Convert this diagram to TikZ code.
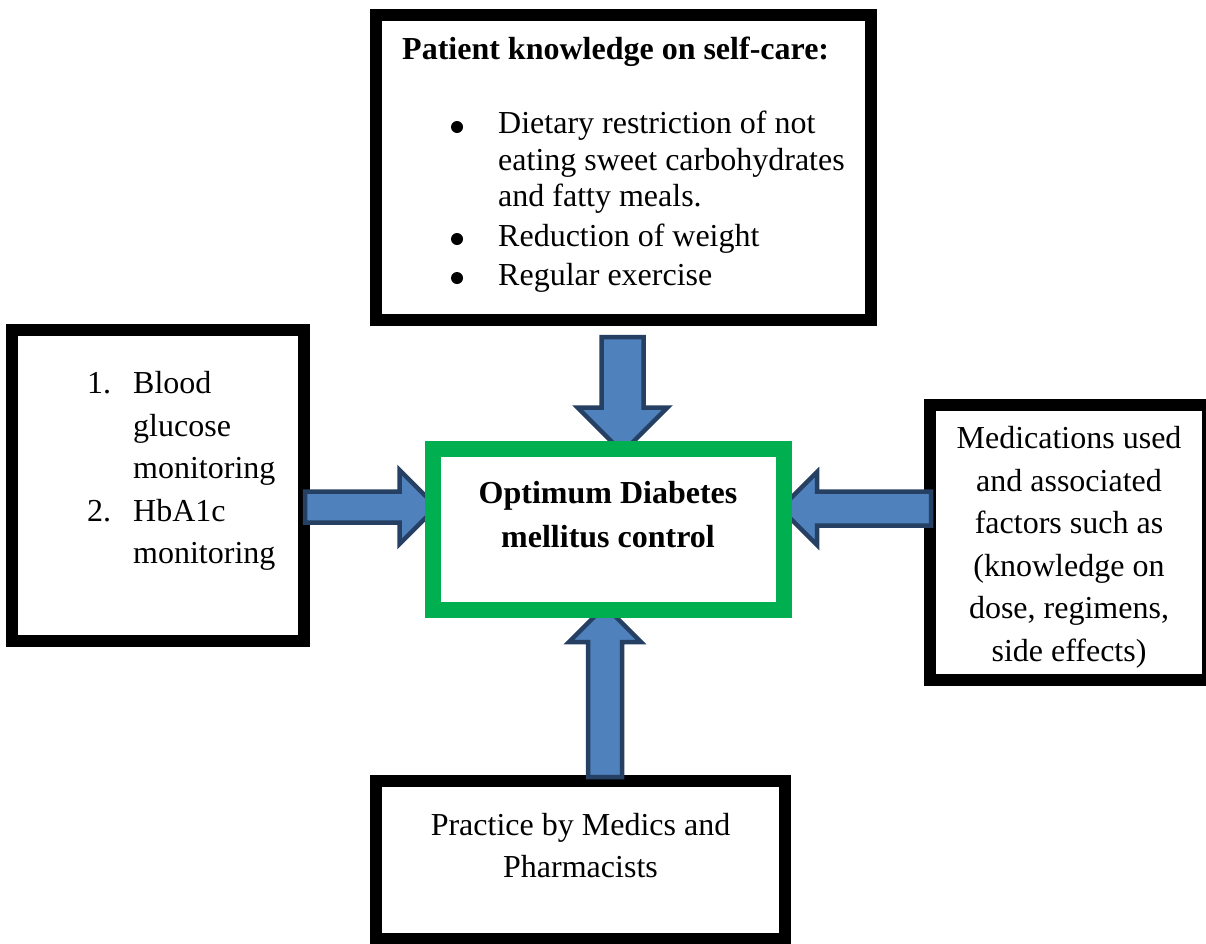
\documentclass[tikz,border=0pt]{standalone}
\usepackage{fontspec}
\setmainfont{LiberationSerif}[Extension=.ttf, UprightFont=*-Regular, BoldFont=*-Bold, ItalicFont=*-Italic, BoldItalicFont=*-BoldItalic]
\definecolor{arrfill}{HTML}{4F81BD}
\definecolor{arrline}{HTML}{254062}
\definecolor{okgreen}{HTML}{00B050}
\tikzset{
  box/.style={draw=black, line width=12pt, fill=white, inner sep=0pt},
  centrebox/.style={draw=okgreen, line width=16pt, fill=white, inner sep=0pt},
  blockarrow/.style={fill=arrfill, draw=arrline, line width=4.5pt, line join=miter},
  txt/.style={inner sep=0pt, font=\rmfamily\fontsize{32}{36.8}\selectfont},
  btxt/.style={inner sep=0pt, font=\rmfamily\fontsize{32}{36.8}\selectfont\bfseries},
  bul/.style={circle, fill=black, inner sep=0pt, minimum size=12pt}
}
\begin{document}
\begin{tikzpicture}[x=1pt, y=-1pt]
\useasboundingbox (0,0) rectangle (1206,943);
% outer boxes
\node[box, minimum width=495pt, minimum height=305pt] (know) at (623.5,167) {};
\node[box, minimum width=292pt, minimum height=311.5pt] (monit) at (158,485.25) {};
\node[box, minimum width=409pt, minimum height=158pt] (pract) at (580.5,860) {};
\node[box, minimum width=278pt, minimum height=275.5pt] (medic) at (1069,542.25) {};
% block arrows
\draw[blockarrow] (601.5,337) -- (643.5,337) -- (643.5,407.5) -- (667.5,407.5) -- (622.5,452.5) -- (577.5,407.5) -- (601.5,407.5) -- cycle;
\draw[blockarrow] (305,491.5) -- (399.5,491.5) -- (399.5,470) -- (436.5,507) -- (399.5,544) -- (399.5,522.5) -- (305,522.5) -- cycle;
\draw[blockarrow] (931,491.5) -- (817,491.5) -- (817,472) -- (780.5,508.5) -- (817,545) -- (817,525.5) -- (931,525.5) -- cycle;
\draw[blockarrow] (588,777) -- (588,642) -- (569,642) -- (605,606) -- (641,642) -- (622,642) -- (622,777) -- cycle;
% centre box
\node[centrebox, minimum width=351pt, minimum height=161pt] (goal) at (608,529.5) {};
% texts: centre
\node[btxt, anchor=base] (g1) at (608,503) {Optimum Diabetes};
\node[btxt, anchor=base] (g2) at (608,547) {mellitus control};
% texts: top
\node[btxt, anchor=base west] (k0) at (402,59) {Patient knowledge on self-care:};
\node[bul] (kb1) at (457,127) {};
\node[bul] (kb2) at (457,239) {};
\node[bul] (kb3) at (457,278) {};
\node[txt, anchor=base west] (k1) at (498,133) {Dietary restriction of not};
\node[txt, anchor=base west] (k2) at (498,170) {eating sweet carbohydrates};
\node[txt, anchor=base west] (k3) at (498,206) {and fatty meals.};
\node[txt, anchor=base west] (k4) at (498,246) {Reduction of weight};
\node[txt, anchor=base west] (k5) at (498,285) {Regular exercise};
% texts: left
\node[txt, anchor=base west] (m1n) at (87,393) {1.};
\node[txt, anchor=base west] (m2n) at (87,521) {2.};
\node[txt, anchor=base west] (m1) at (133,393) {Blood};
\node[txt, anchor=base west] (m2) at (133,436) {glucose};
\node[txt, anchor=base west] (m3) at (133,478) {monitoring};
\node[txt, anchor=base west] (m4) at (133,521) {HbA1c};
\node[txt, anchor=base west] (m5) at (133,563) {monitoring};
% texts: right
\node[txt, anchor=base] (r1) at (1069,448) {Medications used};
\node[txt, anchor=base] (r2) at (1069,491) {and associated};
\node[txt, anchor=base] (r3) at (1069,533) {factors such as};
\node[txt, anchor=base] (r4) at (1069,576) {(knowledge on};
\node[txt, anchor=base] (r5) at (1069,618) {dose, regimens,};
\node[txt, anchor=base] (r6) at (1069,661) {side effects)};
% texts: bottom
\node[txt, anchor=base] (p1) at (580.5,835) {Practice by Medics and};
\node[txt, anchor=base] (p2) at (580.5,877) {Pharmacists};
\end{tikzpicture}
\end{document}
